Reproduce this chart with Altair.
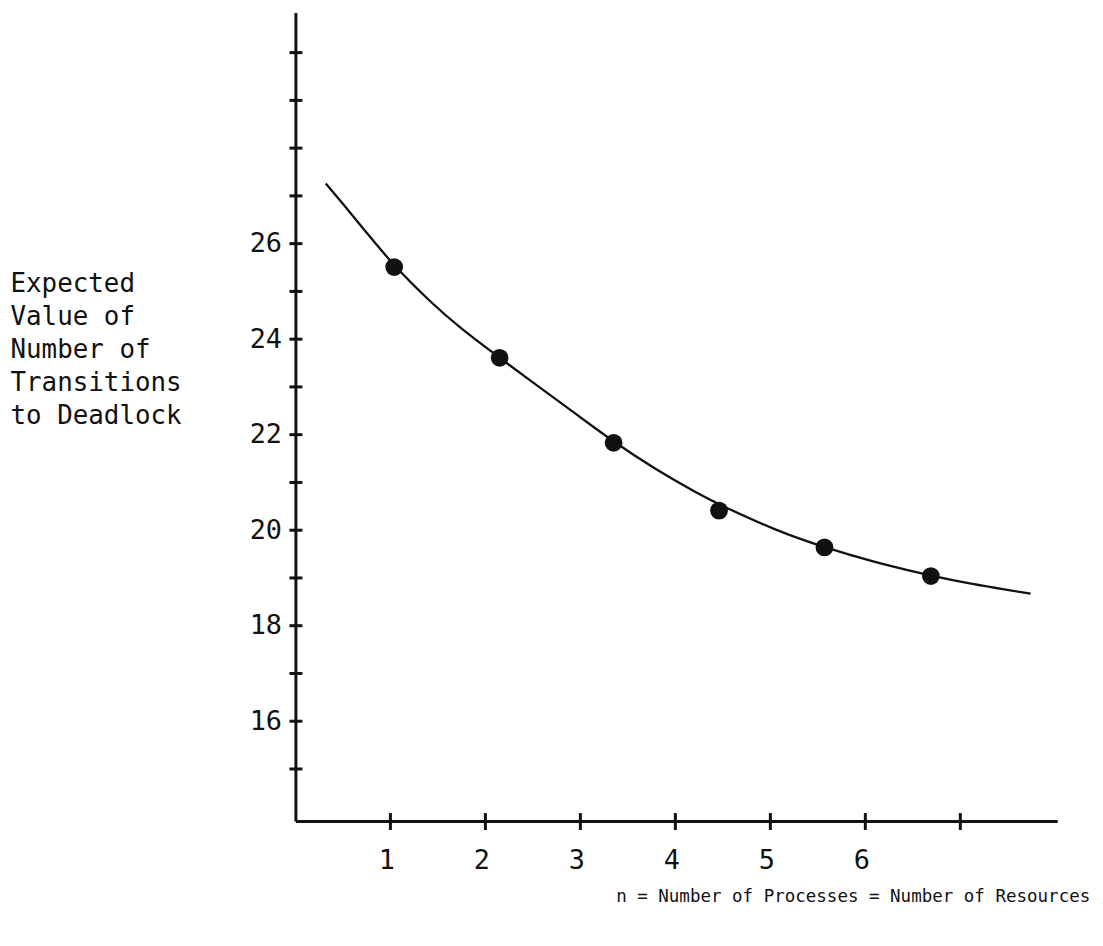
import altair as alt
import pandas as pd

# ---- data ----
point_n = [1.04, 2.15, 3.35, 4.46, 5.57, 6.69]
point_value = [25.51, 23.61, 21.83, 20.41, 19.64, 19.04]

curve_n = [0.32, 0.49, 0.77, 1.04, 1.43, 1.74, 2.15, 2.48, 2.97, 3.35,
           3.77, 4.26, 4.46, 5.06, 5.57, 6.10, 6.52, 6.69, 7.04, 7.74]
curve_value = [27.26, 26.86, 26.18, 25.53, 24.76, 24.22, 23.61, 23.12, 22.41, 21.85,
               21.30, 20.74, 20.54, 19.99, 19.64, 19.33, 19.13, 19.05, 18.90, 18.67]

y_tick_values = list(range(15, 31))
y_label_values = [16, 18, 20, 22, 24, 26]
x_tick_values = [1, 2, 3, 4, 5, 6, 7]
x_label_values = [1, 2, 3, 4, 5, 6]

y_title_lines = ["Expected", "Value of", "Number of", "Transitions", "to Deadlock"]
x_title = "n = Number of Processes = Number of Resources"

# ---- layout ----
W, H = 766, 813
FONT = "DejaVu Sans Mono"
INK = "#111111"

xscale = alt.Scale(domain=[0, 8.02], nice=False, zero=False)
yscale = alt.Scale(domain=[13.91, 30.84], nice=False, zero=False)

x_axis = alt.Axis(
    values=x_label_values, ticks=False, grid=False, format="d",
    domainColor=INK, domainWidth=3,
    labelFont=FONT, labelFontSize=27, labelColor=INK, labelPadding=27,
    labelOffset=-4, labelFlush=False, labelOverlap=False,
    title=x_title, titleFont=FONT, titleFontSize=17.6, titleFontWeight="normal",
    titleColor=INK, titleX=322, titleY=76, titleAlign="left", titleBaseline="middle",
)
y_axis = alt.Axis(
    values=y_label_values, ticks=False, grid=False, format="d",
    domainColor=INK, domainWidth=3,
    labelFont=FONT, labelFontSize=27, labelColor=INK, labelPadding=14,
    labelFlush=False, labelOverlap=False,
    title=y_title_lines, titleFont=FONT, titleFontSize=26, titleFontWeight="normal",
    titleColor=INK, titleAngle=0, titleAlign="left", titleBaseline="top",
    titleX=-287, titleY=260, titleLineHeight=33,
)

X = alt.X("n:Q", scale=xscale, axis=x_axis)
Y = alt.Y("v:Q", scale=yscale, axis=y_axis)

curve = alt.Chart(pd.DataFrame({"n": curve_n, "v": curve_value})).mark_line(
    color=INK, strokeWidth=2.3, interpolate="basis"
).encode(x=X, y=Y)

points = alt.Chart(pd.DataFrame({"n": point_n, "v": point_value})).mark_circle(
    size=320, color=INK, opacity=1
).encode(x=X, y=Y)

ytick = alt.Chart(pd.DataFrame({"v": y_tick_values})).mark_rule(
    color=INK, strokeWidth=3
).encode(y=Y, x=alt.value(-6), x2=alt.value(7))

xtick = alt.Chart(pd.DataFrame({"n": x_tick_values})).mark_rule(
    color=INK, strokeWidth=3
).encode(x=X, y=alt.value(H - 8), y2=alt.value(H + 9))

chart = alt.layer(curve, ytick, xtick, points).properties(
    width=W, height=H,
    autosize=alt.AutoSizeParams(type="none"),
    padding={"left": 289, "top": 2, "right": 38, "bottom": 100},
    background="white",
).configure_view(stroke=None)

chart.save("out.html", embed_options={"renderer": "svg", "actions": False})
